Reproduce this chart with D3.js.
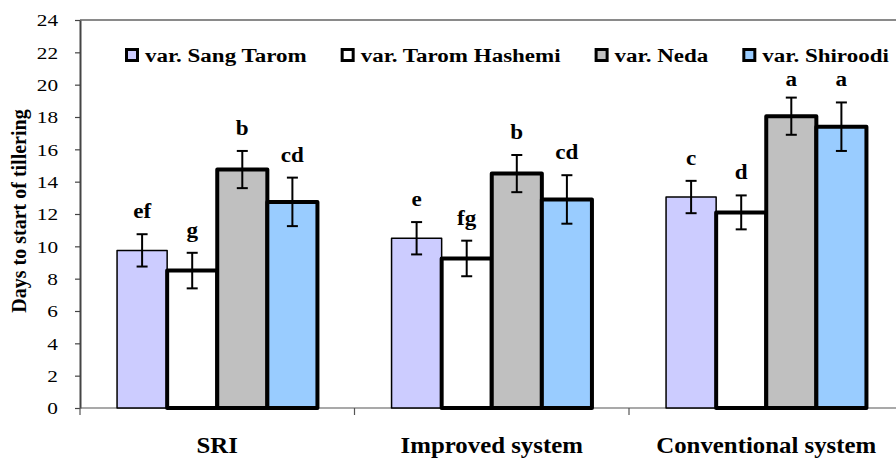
<!DOCTYPE html>
<html>
<head>
<meta charset="utf-8">
<script src="https://cdn.jsdelivr.net/npm/d3@7"></script>
<style>
  body { margin: 0; background: white; }
</style>
</head>
<body>
<div id="chart"></div>
<script>
// data
let systems = ['SRI', 'Improved system', 'Conventional system'];
let varieties = ['var. Sang Tarom', 'var. Tarom Hashemi', 'var. Neda', 'var. Shiroodi'];
let colors = ['#ccccff', '#ffffff', '#c0c0c0', '#99ccff'];

let sangTarom = [9.75, 10.5, 13.05];
let taromHashemi = [8.5, 9.25, 12.1];
let neda = [14.75, 14.5, 18.05];
let shiroodi = [12.75, 12.9, 17.4];

let sangTaromErr = [1.0, 1.0, 1.0];
let taromHashemiErr = [1.1, 1.1, 1.05];
let nedaErr = [1.15, 1.15, 1.15];
let shiroodiErr = [1.5, 1.5, 1.5];

let sangTaromLetters = ['ef', 'e', 'c'];
let taromHashemiLetters = ['g', 'fg', 'd'];
let nedaLetters = ['b', 'b', 'a'];
let shiroodiLetters = ['cd', 'cd', 'a'];

let yTicks = [0, 2, 4, 6, 8, 10, 12, 14, 16, 18, 20, 22, 24];

let seriesValues = [sangTarom, taromHashemi, neda, shiroodi];
let seriesErr = [sangTaromErr, taromHashemiErr, nedaErr, shiroodiErr];
let seriesLetters = [sangTaromLetters, taromHashemiLetters, nedaLetters, shiroodiLetters];

let serif = '"Liberation Serif", "Times New Roman", Times, "DejaVu Serif", serif';

// flatten into rows for binding
let rows = [];
varieties.forEach(function(v, i) {
	systems.forEach(function(s, j) {
		rows.push({
			system: s,
			variety: v,
			value: seriesValues[i][j],
			err: seriesErr[i][j],
			letter: seriesLetters[i][j],
			color: colors[i],
			idx: i
		});
	});
});

let width = 896,
	height = 459,
	margin = { top: 20, left: 80, bottom: 51 };

let svg = d3.select('#chart')
	.append('svg')
		.attr('width', width)
		.attr('height', height)
		.style('background', 'white');

// scales
let x0 = d3.scaleBand()
	.domain(systems)
	.range([margin.left, 903.5])
	.paddingInner(0.27)
	.paddingOuter(0.135);

let x1 = d3.scaleBand()
	.domain(varieties)
	.range([0, x0.bandwidth()]);

let yScale = d3.scaleLinear()
	.domain([0, 24])
	.range([height - margin.bottom, margin.top]);

// top frame line
svg.append('line')
	.attr('x1', margin.left)
	.attr('x2', width)
	.attr('y1', yScale(24))
	.attr('y2', yScale(24))
	.attr('stroke', '#8a8a8a')
	.attr('stroke-width', 2);

// y axis
let yAxis = d3.axisLeft(yScale)
	.tickValues(yTicks)
	.tickSize(5)
	.tickSizeOuter(0);

let yG = svg.append('g')
	.attr('class', 'y axis')
	.attr('transform', 'translate(' + margin.left + ',0)')
	.call(yAxis);

yG.select('.domain').attr('stroke', '#444').attr('stroke-width', 2);
yG.selectAll('.tick line').attr('stroke', '#444').attr('stroke-width', 1.2);
yG.selectAll('.tick text')
	.attr('x', null)
	.attr('dy', '0.34em')
	.attr('transform', 'translate(-22,0) scale(1.25,1)')
	.style('font-family', serif)
	.style('font-size', '17px')
	.attr('fill', '#000');

// x axis line with boundary ticks
let xLine = svg.append('g').attr('class', 'x axis');
xLine.append('line')
	.attr('x1', margin.left)
	.attr('x2', width)
	.attr('y1', yScale(0))
	.attr('y2', yScale(0))
	.attr('stroke', '#555')
	.attr('stroke-width', 1.2);

let half = x0.step() * x0.paddingInner() / 2;
xLine.selectAll('.sep')
	.data(systems)
	.enter()
	.append('line')
	.attr('class', 'sep')
	.attr('x1', function(d) { return x0(d) - half; })
	.attr('x2', function(d) { return x0(d) - half; })
	.attr('y1', yScale(0))
	.attr('y2', yScale(0) + 7)
	.attr('stroke', '#555')
	.attr('stroke-width', 1.2);

// category labels
svg.selectAll('.cat')
	.data(systems)
	.enter()
	.append('text')
	.attr('class', 'cat')
	.attr('text-anchor', 'middle')
	.attr('transform', function(d) {
		return 'translate(' + (x0(d) + x0.bandwidth() / 2) + ',453) scale(1.08,1)';
	})
	.style('font-family', serif)
	.style('font-size', '23px')
	.style('font-weight', 'bold')
	.text(function(d) { return d; });

// y title
svg.append('text')
	.attr('transform', 'translate(26,211) rotate(-90)')
	.attr('text-anchor', 'middle')
	.style('font-family', serif)
	.style('font-size', '20px')
	.style('font-weight', 'bold')
	.text('Days to start of tillering');

// bars
let bars = svg.append('g');
bars.selectAll('rect')
	.data(rows)
	.enter()
	.append('rect')
	.attr('x', function(d) { return x0(d.system) + x1(d.variety); })
	.attr('y', function(d) { return yScale(d.value); })
	.attr('width', x1.bandwidth())
	.attr('height', function(d) { return yScale(0) - yScale(d.value); })
	.attr('fill', function(d) { return d.color; })
	.attr('stroke', '#000')
	.attr('stroke-width', function(d) { return d.idx == 0 ? 1.5 : 4; })
	.attr('stroke-linejoin', 'round');

// error bars
let errG = svg.append('g')
	.attr('stroke', '#000')
	.attr('stroke-width', 2);

rows.forEach(function(d) {
	let cx = x0(d.system) + x1(d.variety) + x1.bandwidth() / 2;
	let top = yScale(d.value + d.err);
	let bot = yScale(d.value - d.err);
	errG.append('line').attr('x1', cx).attr('x2', cx).attr('y1', top).attr('y2', bot);
	errG.append('line').attr('x1', cx - 5.5).attr('x2', cx + 5.5).attr('y1', top).attr('y2', top);
	errG.append('line').attr('x1', cx - 5.5).attr('x2', cx + 5.5).attr('y1', bot).attr('y2', bot);
});

// significance letters (kept below the legend row)
svg.selectAll('.letter')
	.data(rows)
	.enter()
	.append('text')
	.attr('class', 'letter')
	.attr('text-anchor', 'middle')
	.attr('transform', function(d) {
		let cx = x0(d.system) + x1(d.variety) + x1.bandwidth() / 2;
		let ly = Math.max(yScale(d.value + d.err) - 16, 86);
		return 'translate(' + cx + ',' + ly + ') scale(1.1,1)';
	})
	.style('font-family', serif)
	.style('font-size', '21px')
	.style('font-weight', 'bold')
	.text(function(d) { return d.letter; });

// legend, laid out left to right
let legend = svg.append('g').attr('class', 'legend');
let lx = 125;
varieties.forEach(function(v, i) {
	legend.append('rect')
		.attr('x', lx + 1.5)
		.attr('y', 49.5)
		.attr('width', 11)
		.attr('height', 11)
		.attr('fill', colors[i])
		.attr('stroke', '#000')
		.attr('stroke-width', 3);
	let t = legend.append('text')
		.attr('transform', 'translate(' + (lx + 20) + ',61.5) scale(1.18,1)')
		.style('font-family', serif)
		.style('font-size', '19.5px')
		.style('font-weight', 'bold')
		.text(v);
	let w = t.node().getComputedTextLength() * 1.18;
	lx = lx + 20 + w + 34;
});
</script>
</body>
</html>
